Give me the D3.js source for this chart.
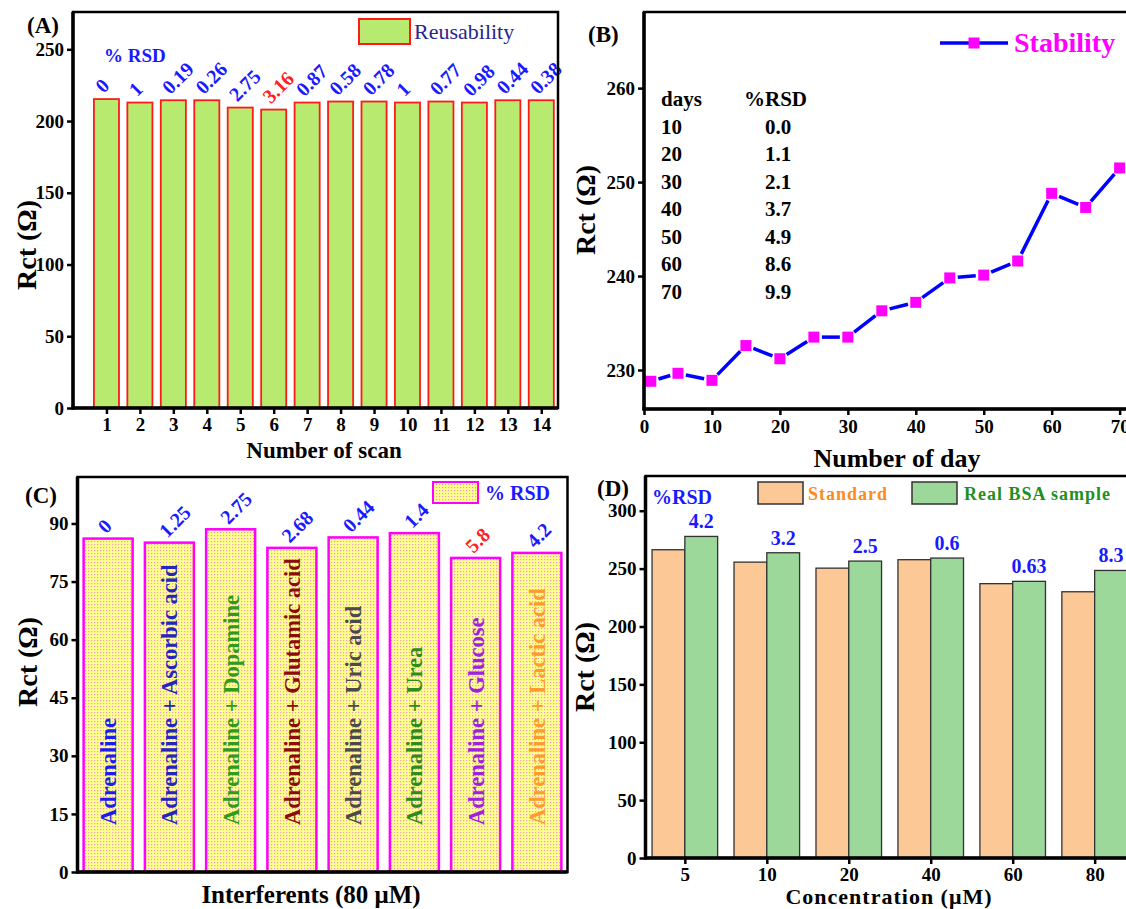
<!DOCTYPE html>
<html>
<head>
<meta charset="utf-8">
<script src="https://cdn.jsdelivr.net/npm/d3@7"></script>
<style>
  body { margin: 0; background: #fff; }
  svg { display: block; }
</style>
</head>
<body>
<script>
// ---- data ----
// (A) reusability
var scanNo = [1, 2, 3, 4, 5, 6, 7, 8, 9, 10, 11, 12, 13, 14];
var reuseRct = [215.3, 212.9, 214.5, 214.5, 209.4, 208.0, 212.9, 213.6, 213.6, 212.9, 213.6, 212.9, 214.5, 214.5];
var reuseRsd = ['0', '1', '0.19', '0.26', '2.75', '3.16', '0.87', '0.58', '0.78', '1', '0.77', '0.98', '0.44', '0.38'];
// (B) stability
var stabDays = [1, 5, 10, 15, 20, 25, 30, 35, 40, 45, 50, 55, 60, 65, 70];
var stabRct = [228.8, 229.65, 228.9, 232.6, 231.2, 233.5, 233.5, 236.3, 237.2, 239.8, 240.1, 241.6, 248.8, 247.3, 251.5];
var tableDays = ['10', '20', '30', '40', '50', '60', '70'];
var tableRsd = ['0.0', '1.1', '2.1', '3.7', '4.9', '8.6', '9.9'];
// (C) interferents
var interferents = ['Adrenaline', 'Adrenaline + Ascorbic acid', 'Adrenaline + Dopamine', 'Adrenaline + Glutamic acid',
    'Adrenaline + Uric acid', 'Adrenaline + Urea', 'Adrenaline + Glucose', 'Adrenaline + Lactic acid'];
var interfRct = [86.1, 85.05, 88.5, 83.7, 86.4, 87.5, 81.1, 82.4];
var interfRsd = ['0', '1.25', '2.75', '2.68', '0.44', '1.4', '5.8', '4.2'];
// (D) real sample
var conc = ['5', '10', '20', '40', '60', '80'];
var stdRct = [266.3, 255.6, 250.4, 257.7, 237.0, 230.0];
var realRct = [277.8, 263.7, 256.5, 259.1, 239.0, 248.4];
var realRsd = ['4.2', '3.2', '2.5', '0.6', '0.63', '8.3'];

// ---- styles ----
var SERIF = '"Times New Roman", "Liberation Serif", Times, serif';
var BLUE = '#1a1aff';
var interfColors = ['#1c1cf0', '#2424c0', '#2e9a1e', '#8b0a0a', '#4a4a4a', '#2e8b1e', '#a020e0', '#ff9a30'];

var svg = d3.select('body').append('svg')
    .attr('width', 1126).attr('height', 909)
    .style('background', '#fff');

var defs = svg.append('defs');
var pat = defs.append('pattern')
    .attr('id', 'dots').attr('patternUnits', 'userSpaceOnUse')
    .attr('width', 3).attr('height', 3);
pat.append('rect').attr('width', 3).attr('height', 3).attr('fill', '#ffff8c');
pat.append('rect').attr('x', 1).attr('y', 1).attr('width', 1.2).attr('height', 1.2).attr('fill', '#f49ac8');

//small text helper
function txt(g, x, y, s, size, opt){
    opt = opt || {};
    var t = g.append('text')
        .attr('x', x).attr('y', y)
        .attr('font-family', SERIF)
        .attr('font-size', size)
        .attr('font-weight', opt.weight || 'bold')
        .attr('fill', opt.fill || '#000')
        .attr('text-anchor', opt.anchor || 'start')
        .text(s);
    if(opt.rotate){
        t.attr('transform', 'rotate(' + opt.rotate + ',' + x + ',' + y + ')');
    }
    if(opt.spacing){
        t.attr('letter-spacing', opt.spacing);
    }
    return t;
}

function styleAxis(g){
    g.select('.domain').remove();
    g.selectAll('.tick line').attr('stroke', '#000').attr('stroke-width', 2.5);
    g.selectAll('.tick text')
        .attr('font-family', SERIF).attr('font-size', 19)
        .attr('font-weight', 'bold').attr('fill', '#000');
}

//box frame with heavier left/bottom axes
function frame(g, x0, y0, x1, y1){
    g.append('rect').attr('x', x0).attr('y', y0)
        .attr('width', x1 - x0).attr('height', y1 - y0)
        .attr('fill', 'none').attr('stroke', '#000').attr('stroke-width', 2.5);
    g.append('line').attr('x1', x0).attr('x2', x0).attr('y1', y0).attr('y2', y1 + 1.5)
        .attr('stroke', '#000').attr('stroke-width', 3.5);
    g.append('line').attr('x1', x0 - 1.5).attr('x2', x1).attr('y1', y1).attr('y2', y1)
        .attr('stroke', '#000').attr('stroke-width', 3.5);
}

//====================================
// (A)
(function(){
    var g = svg.append('g');
    var x = d3.scaleLinear().domain([0, 14.5]).range([73, 558]);
    var y = d3.scaleLinear().domain([0, 276]).range([408, 12]);
    var bw = x(0.75) - x(0);

    g.selectAll('rect.bar').data(scanNo).enter().append('rect')
        .attr('class', 'bar')
        .attr('x', function(d){ return x(d) - bw / 2; })
        .attr('y', function(d, i){ return y(reuseRct[i]); })
        .attr('width', bw)
        .attr('height', function(d, i){ return y(0) - y(reuseRct[i]); })
        .attr('fill', '#b9ea70').attr('stroke', '#ff1a1a').attr('stroke-width', 1.8);

    scanNo.forEach(function(d, i){
        txt(g, x(d) - 3, y(reuseRct[i]) - 5, reuseRsd[i], 20,
            {fill: reuseRsd[i] === '3.16' ? '#ff2020' : BLUE, rotate: -45});
    });

    frame(g, 73, 12, 558, 408);
    g.append('g').attr('transform', 'translate(73,0)')
        .call(d3.axisLeft(y).tickValues([0, 50, 100, 150, 200, 250]).tickSize(6).tickSizeOuter(0).tickPadding(3))
        .call(styleAxis);
    g.append('g').attr('transform', 'translate(0,408)')
        .call(d3.axisBottom(x).tickValues(scanNo).tickSize(6).tickSizeOuter(0).tickPadding(4))
        .call(styleAxis);

    txt(g, 104, 62, '% RSD', 19, {fill: BLUE});
    g.append('rect').attr('x', 359).attr('y', 19).attr('width', 51).attr('height', 25)
        .attr('fill', '#b9ea70').attr('stroke', '#ff1a1a').attr('stroke-width', 2);
    txt(g, 414, 39, 'Reusability', 22, {weight: 'normal', fill: '#26268c'});
    txt(g, 27, 33, '(A)', 23);
    txt(g, 36, 245, 'Rct (\u03A9)', 28, {anchor: 'middle', rotate: -90});
    txt(g, 324, 458, 'Number of scan', 23, {anchor: 'middle'});
})();

//====================================
// (B)
(function(){
    var g = svg.append('g');
    var x = d3.scaleLinear().domain([0, 75]).range([644, 1153.6]);
    var y = d3.scaleLinear().domain([225.85, 268.1]).range([409, 12]);

    //line segments leave a small gap round each marker
    var gap = 8;
    for(var i = 0; i < stabDays.length - 1; ++i){
        var x1 = x(stabDays[i]), y1 = y(stabRct[i]);
        var x2 = x(stabDays[i + 1]), y2 = y(stabRct[i + 1]);
        var len = Math.sqrt((x2 - x1) * (x2 - x1) + (y2 - y1) * (y2 - y1));
        var ux = (x2 - x1) / len, uy = (y2 - y1) / len;
        g.append('line')
            .attr('x1', x1 + ux * gap).attr('y1', y1 + uy * gap)
            .attr('x2', x2 - ux * gap).attr('y2', y2 - uy * gap)
            .attr('stroke', '#0000ff').attr('stroke-width', 3.5);
    }
    g.selectAll('rect.pt').data(stabDays).enter().append('rect')
        .attr('class', 'pt')
        .attr('x', function(d){ return x(d) - 5.5; })
        .attr('y', function(d, i){ return y(stabRct[i]) - 5.5; })
        .attr('width', 11).attr('height', 11)
        .attr('fill', '#ff00ff');

    frame(g, 644, 12, 1153.6, 409);
    g.append('g').attr('transform', 'translate(644,0)')
        .call(d3.axisLeft(y).tickValues([230, 240, 250, 260]).tickSize(6).tickSizeOuter(0).tickPadding(3))
        .call(styleAxis);
    g.append('g').attr('transform', 'translate(0,409)')
        .call(d3.axisBottom(x).tickValues([0, 10, 20, 30, 40, 50, 60, 70]).tickSize(6).tickSizeOuter(0).tickPadding(5))
        .call(styleAxis);

    //days / %RSD table
    txt(g, 661, 106, 'days', 21);
    txt(g, 744, 106, '%RSD', 21);
    tableDays.forEach(function(d, i){
        var yy = 133.5 + i * 27.5;
        txt(g, 661, yy, d, 21);
        txt(g, 778, yy, tableRsd[i], 21, {anchor: 'middle'});
    });

    //legend
    g.append('line').attr('x1', 940).attr('x2', 1008).attr('y1', 43).attr('y2', 43)
        .attr('stroke', '#0000ff').attr('stroke-width', 3.5);
    g.append('rect').attr('x', 968.5).attr('y', 37.5).attr('width', 11).attr('height', 11).attr('fill', '#ff00ff');
    txt(g, 1014, 52, 'Stability', 28, {fill: '#ff00ff'});

    txt(g, 588, 42, '(B)', 23);
    txt(g, 595, 210, 'Rct (\u03A9)', 28, {anchor: 'middle', rotate: -90});
    txt(g, 897, 467, 'Number of day', 26, {anchor: 'middle'});
})();

//====================================
// (C)
(function(){
    var g = svg.append('g');
    var x = d3.scaleBand().domain(interferents).range([77.5, 567.5]).paddingInner(0.2).paddingOuter(0.1);
    var y = d3.scaleLinear().domain([0, 102]).range([872, 477]);

    g.selectAll('rect.bar').data(interferents).enter().append('rect')
        .attr('class', 'bar')
        .attr('x', function(d){ return x(d); })
        .attr('y', function(d, i){ return y(interfRct[i]); })
        .attr('width', x.bandwidth())
        .attr('height', function(d, i){ return y(0) - y(interfRct[i]); })
        .attr('fill', 'url(#dots)').attr('stroke', '#ff00ff').attr('stroke-width', 2.5);

    interferents.forEach(function(d, i){
        var cx = x(d) + x.bandwidth() / 2;
        txt(g, cx + 8, 825, d, 22.5, {fill: interfColors[i], rotate: -90});
        txt(g, cx - 2, y(interfRct[i]) - 4, interfRsd[i], 20,
            {fill: interfRsd[i] === '5.8' ? '#ff2020' : BLUE, rotate: -45});
    });

    frame(g, 77.5, 477, 567.5, 872);
    g.append('g').attr('transform', 'translate(77.5,0)')
        .call(d3.axisLeft(y).tickValues([0, 15, 30, 45, 60, 75, 90]).tickSize(6).tickSizeOuter(0).tickPadding(3))
        .call(styleAxis);

    g.append('rect').attr('x', 433).attr('y', 482).attr('width', 45).attr('height', 21)
        .attr('fill', 'url(#dots)').attr('stroke', '#ff00ff').attr('stroke-width', 2);
    txt(g, 485, 500, '% RSD', 20, {fill: BLUE});
    txt(g, 25, 503, '(C)', 23);
    txt(g, 37, 662, 'Rct (\u03A9)', 28, {anchor: 'middle', rotate: -90});
    txt(g, 311, 903, 'Interferents (80 \u03BCM)', 25, {anchor: 'middle'});
})();

//====================================
// (D)
(function(){
    var g = svg.append('g');
    var x = d3.scaleBand().domain(conc).range([645.5, 1134]).paddingInner(0.2).paddingOuter(0.08);
    var y = d3.scaleLinear().domain([0, 330]).range([858, 476]);
    var bw = x.bandwidth() / 2;

    g.selectAll('rect.std').data(conc).enter().append('rect')
        .attr('class', 'std')
        .attr('x', function(d){ return x(d); })
        .attr('y', function(d, i){ return y(stdRct[i]); })
        .attr('width', bw)
        .attr('height', function(d, i){ return y(0) - y(stdRct[i]); })
        .attr('fill', '#fcc896').attr('stroke', '#333').attr('stroke-width', 1.3);
    g.selectAll('rect.real').data(conc).enter().append('rect')
        .attr('class', 'real')
        .attr('x', function(d){ return x(d) + bw; })
        .attr('y', function(d, i){ return y(realRct[i]); })
        .attr('width', bw)
        .attr('height', function(d, i){ return y(0) - y(realRct[i]); })
        .attr('fill', '#9cd89a').attr('stroke', '#333').attr('stroke-width', 1.3);

    conc.forEach(function(d, i){
        txt(g, x(d) + bw * 1.5, y(realRct[i]) - 8, realRsd[i], 20, {fill: BLUE, anchor: 'middle'});
    });

    frame(g, 645.5, 476, 1134, 858);
    g.append('g').attr('transform', 'translate(645.5,0)')
        .call(d3.axisLeft(y).tickValues([0, 50, 100, 150, 200, 250, 300]).tickSize(6).tickSizeOuter(0).tickPadding(3))
        .call(styleAxis);
    var xb = d3.scaleOrdinal().domain(conc).range(conc.map(function(d){ return x(d) + bw; }));
    g.append('g').attr('transform', 'translate(0,858)')
        .call(d3.axisBottom(xb).tickSize(6).tickSizeOuter(0).tickPadding(4))
        .call(styleAxis);

    txt(g, 652, 504, '%RSD', 20, {fill: BLUE});
    g.append('rect').attr('x', 758).attr('y', 482).attr('width', 45).attr('height', 22)
        .attr('fill', '#fcc896').attr('stroke', '#333').attr('stroke-width', 1.5);
    txt(g, 808, 500, 'Standard', 18, {fill: '#ff8a1c', spacing: 1});
    g.append('rect').attr('x', 912).attr('y', 482).attr('width', 45).attr('height', 22)
        .attr('fill', '#9cd89a').attr('stroke', '#333').attr('stroke-width', 1.5);
    txt(g, 964, 500, 'Real BSA sample', 18, {fill: '#1f8f1f', spacing: 1});

    txt(g, 597, 496, '(D)', 23);
    txt(g, 594, 667, 'Rct (\u03A9)', 28, {anchor: 'middle', rotate: -90});
    txt(g, 889, 904, 'Concentration (\u03BCM)', 22, {anchor: 'middle', spacing: 1});
})();
</script>
</body>
</html>
